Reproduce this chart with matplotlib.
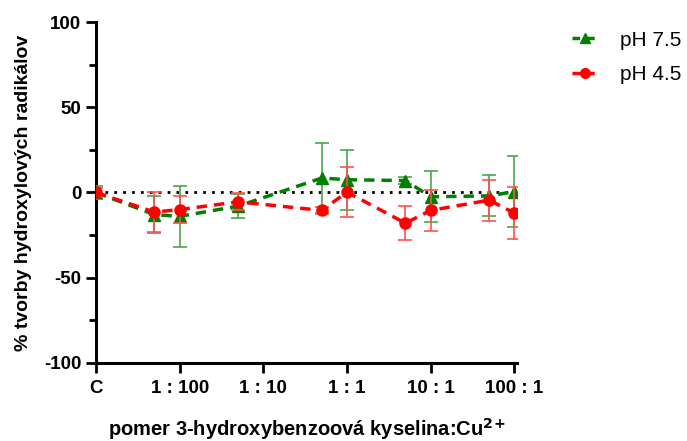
import matplotlib.pyplot as plt
import numpy as np
from matplotlib.lines import Line2D
from matplotlib.ticker import MultipleLocator, FixedLocator, NullLocator

plt.rcParams['font.family'] = ['Liberation Sans', 'DejaVu Sans']
plt.rcParams['axes.unicode_minus'] = False

# ratio 3-hydroxybenzoic acid : Cu2+ (C = control, drawn at 1:1000)
ratio = [0.001, 1/200, 1/100, 1/20, 1/2, 1, 5, 10, 50, 100]
tick_pos = [0.001, 0.01, 0.1, 1, 10, 100]
tick_labels = ["C", "1 : 100", "1 : 10", "1 : 1", "10 : 1", "100 : 1"]

ph75 = [0, -13, -14, -8, 8.5, 7.5, 7, -2.5, -2, 0.5]
ph75_err = [4, 11, 18, 7, 20.5, 17.5, 2, 15, 12, 21]
ph45 = [0, -11.5, -10, -5.5, -10.5, 0.2, -18, -10.5, -4.5, -12]
ph45_err = [2.5, 11.5, 8, 5, 2, 14.5, 10, 12, 12, 15.5]

green = '#008000'
red = '#ff0000'

fig = plt.figure(figsize=(6.87, 4.41), dpi=100)
ax = fig.add_axes([0.1397, 0.177, 0.613, 0.773])

ax.plot([tick_pos[0], tick_pos[-1]], [0, 0], color='black', linestyle=(0, (1, 2.2)),
        linewidth=2, zorder=1)

ax.errorbar(ratio, ph75, yerr=ph75_err, color=green, ecolor='#4aa54a',
            linestyle=(0, (3, 2)), linewidth=2.5, marker='^', markersize=8,
            elinewidth=1.2, capsize=5, capthick=1.2, zorder=3)
ax.errorbar(ratio, ph45, yerr=ph45_err, color=red, ecolor='#ff5050',
            linestyle=(0, (3, 2)), linewidth=2.5, marker='o', markersize=8,
            elinewidth=1.2, capsize=5, capthick=1.2, zorder=4)

ax.set_xscale('log')
ax.set_xlim(0.001, 108)
ax.set_ylim(-100, 100)
ax.xaxis.set_major_locator(FixedLocator(tick_pos))
ax.xaxis.set_minor_locator(NullLocator())
ax.set_xticklabels(tick_labels)
ax.yaxis.set_major_locator(MultipleLocator(50))
ax.yaxis.set_minor_locator(MultipleLocator(25))

for s in ['top', 'right']:
    ax.spines[s].set_visible(False)
for s in ['left', 'bottom']:
    ax.spines[s].set_linewidth(2.2)

ax.tick_params(axis='both', which='major', width=2, length=7, labelsize=13.5)
ax.tick_params(axis='x', which='major', pad=5)
ax.tick_params(axis='y', which='minor', width=2, length=5)
for lbl in ax.get_xticklabels() + ax.get_yticklabels():
    lbl.set_fontweight('bold')

ax.set_ylabel('% tvorby hydroxylových radikálov', fontsize=14, fontweight='bold', labelpad=9)
ax.set_xlabel('pomer 3-hydroxybenzoová kyselina:Cu$^{\\mathbf{2\\!+}}$', fontsize=14.5,
              fontweight='bold', labelpad=14)

handles = [
    Line2D([], [], color=green, linestyle=(0, (2.2, 2)), linewidth=2.5, marker='^', markersize=7),
    Line2D([], [], color=red, linestyle=(0, (2.2, 2)), linewidth=2.5, marker='o', markersize=7),
]
ax.legend(handles, ['pH 7.5', 'pH 4.5'], loc='upper left', bbox_to_anchor=(1.085, 1.03),
          frameon=False, fontsize=15, handlelength=1.3, labelspacing=0.75, handletextpad=1.0)

fig.savefig('out.png', dpi=100)
